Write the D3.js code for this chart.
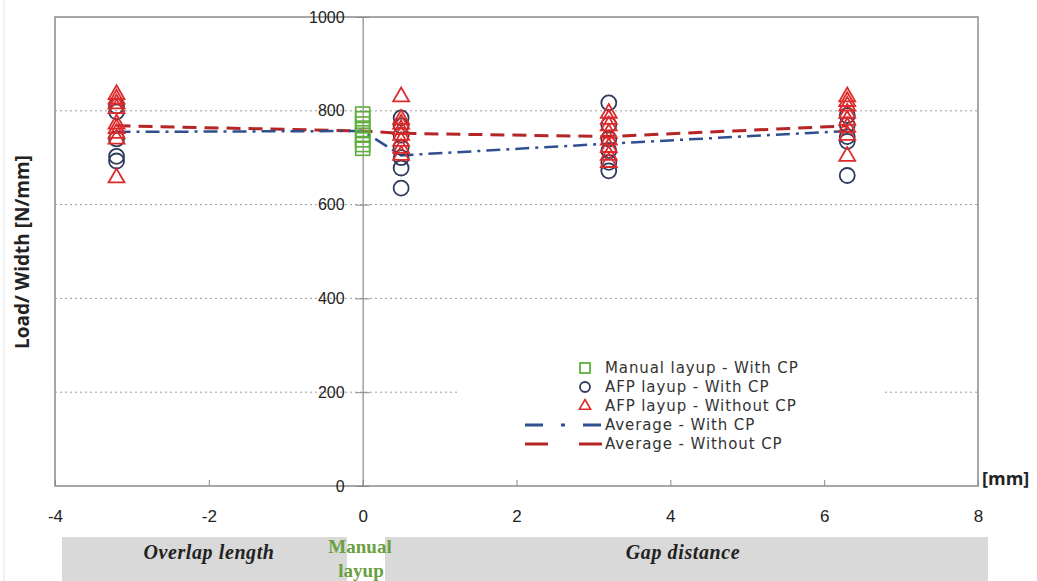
<!DOCTYPE html>
<html>
<head>
<meta charset="utf-8">
<script src="https://cdn.jsdelivr.net/npm/d3@7"></script>
<style>
  html, body { margin: 0; padding: 0; background: #fff; }
  svg { display: block; }
</style>
</head>
<body>
<svg id="chart" width="1037" height="581"></svg>
<script>
// ---- data ----
const xTicks = [-4, -2, 0, 2, 4, 6, 8];
const yTicks = [0, 200, 400, 600, 800, 1000];
const gridValues = [200, 400, 600, 800];

const manualX = [0, 0, 0, 0, 0, 0, 0, 0];
const manualY = [793, 783, 772, 760, 748, 738, 728, 720];

const afpWithX = [-3.2, -3.2, -3.2, -3.2, -3.2, 0.5, 0.5, 0.5, 0.5, 0.5, 0.5, 0.5, 3.2, 3.2, 3.2, 3.2, 3.2, 3.2, 6.3, 6.3, 6.3, 6.3, 6.3];
const afpWithY = [810, 798, 740, 703, 693, 785, 768, 748, 722, 700, 678, 635, 817, 770, 740, 715, 690, 672, 790, 770, 745, 735, 662];

const afpWithoutX = [-3.2, -3.2, -3.2, -3.2, -3.2, -3.2, -3.2, -3.2, -3.2, 0.5, 0.5, 0.5, 0.5, 0.5, 0.5, 0.5, 0.5, 3.2, 3.2, 3.2, 3.2, 3.2, 3.2, 3.2, 3.2, 6.3, 6.3, 6.3, 6.3, 6.3, 6.3, 6.3, 6.3];
const afpWithoutY = [835, 825, 815, 805, 772, 762, 752, 740, 657, 830, 782, 772, 760, 748, 735, 720, 705, 795, 782, 768, 752, 738, 722, 705, 690, 830, 820, 810, 795, 780, 765, 748, 703];

const avgWithX = [-3.2, 0, 0.5, 3.2, 6.3];
const avgWithY = [755, 757, 705, 730, 757];
const avgWithoutX = [-3.2, 0, 0.5, 3.2, 6.3];
const avgWithoutY = [768, 757, 752, 745, 768];

const legendLabels = ["Manual layup - With CP", "AFP layup - With CP", "AFP layup - Without CP", "Average - With CP", "Average - Without CP"];

// ---- layout ----
const svg = d3.select("#chart");
const L = 55, R = 978, T = 17, B = 486;
const x = d3.scaleLinear().domain([-4, 8]).range([L, R]);
const y = d3.scaleLinear().domain([0, 1000]).range([B, T]);

const cGreen = "#5fae3c", cNavy = "#2e3b5e", cRed = "#dd2a2a";
const cBlueLine = "#2f4f8f", cRedLine = "#b52525";
const sans = "Open Sans, Noto Sans, sans-serif";

// gridlines
svg.append("g").selectAll("line").data(gridValues).join("line")
  .attr("x1", L).attr("x2", R)
  .attr("y1", d => y(d)).attr("y2", d => y(d))
  .attr("stroke", "#9a9a9a").attr("stroke-width", 1).attr("stroke-dasharray", "2,3");

// plot border
svg.append("rect").attr("x", L).attr("y", T).attr("width", R - L).attr("height", B - T)
  .attr("fill", "none").attr("stroke", "#8a8a8a").attr("stroke-width", 1.5);

// y axis at x = 0
const yAxis = d3.axisLeft(y).tickValues(yTicks).tickFormat(d => String(d)).tickSize(0).tickPadding(18);
const gy = svg.append("g").attr("transform", `translate(${x(0)},0)`).call(yAxis);
gy.select(".domain").attr("stroke", "#8a8a8a").attr("stroke-width", 1.2);
gy.selectAll("text").attr("font-family", "Liberation Sans, Arial, sans-serif").attr("font-size", 16).attr("fill", "#222");
gy.selectAll(".tick").append("line").attr("x1", -7).attr("x2", 7).attr("stroke", "#8a8a8a");

// x axis ticks (small inner ticks)
const xAxis = d3.axisBottom(x).tickValues(xTicks).tickFormat(d => String(d)).tickSize(0).tickPadding(24);
const gx = svg.append("g").attr("transform", `translate(0,${B})`).call(xAxis);
gx.select(".domain").remove();
gx.selectAll("text").attr("font-family", "Liberation Sans Narrow, Liberation Sans, Arial, sans-serif").attr("font-size", 17).attr("fill", "#222");
gx.selectAll(".tick").append("line").attr("y1", 0).attr("y2", -6).attr("stroke", "#8a8a8a");

// legend background (covers grid)
svg.append("rect").attr("x", 460).attr("y", 352).attr("width", 425).attr("height", 128).attr("fill", "#fff");

// average lines
const lineGen = d3.line().x(d => x(d[0])).y(d => y(d[1]));
svg.append("path").datum(avgWithoutX.map((v, i) => [v, avgWithoutY[i]]))
  .attr("d", lineGen).attr("fill", "none").attr("stroke", cRedLine)
  .attr("stroke-width", 3).attr("stroke-dasharray", "14,8");
svg.append("path").datum(avgWithX.map((v, i) => [v, avgWithY[i]]))
  .attr("d", lineGen).attr("fill", "none").attr("stroke", cBlueLine)
  .attr("stroke-width", 2.5).attr("stroke-dasharray", "14,6,3,6");

// markers
const sq = 14;
svg.append("g").selectAll("rect").data(manualX.map((v, i) => [v, manualY[i]])).join("rect")
  .attr("x", d => x(d[0]) - sq / 2).attr("y", d => y(d[1]) - sq / 2)
  .attr("width", sq).attr("height", sq)
  .attr("fill", "none").attr("stroke", cGreen).attr("stroke-width", 1.6);

svg.append("g").selectAll("circle").data(afpWithX.map((v, i) => [v, afpWithY[i]])).join("circle")
  .attr("cx", d => x(d[0])).attr("cy", d => y(d[1])).attr("r", 7.5)
  .attr("fill", "none").attr("stroke", cNavy).attr("stroke-width", 1.8);

const tri = d3.symbol().type(d3.symbolTriangle).size(110);
svg.append("g").selectAll("path").data(afpWithoutX.map((v, i) => [v, afpWithoutY[i]])).join("path")
  .attr("d", tri).attr("transform", d => `translate(${x(d[0])},${y(d[1])})`)
  .attr("fill", "none").attr("stroke", cRed).attr("stroke-width", 1.8);

// legend
const lg = svg.append("g").attr("font-family", "DejaVu Sans, Verdana, sans-serif").attr("font-size", 15).attr("letter-spacing", 0.9).attr("fill", "#333");
const rowY = i => 368 + i * 19;
lg.append("rect").attr("x", 580).attr("y", rowY(0) - 5).attr("width", 10).attr("height", 10)
  .attr("fill", "none").attr("stroke", cGreen).attr("stroke-width", 1.8);
lg.append("circle").attr("cx", 585).attr("cy", rowY(1)).attr("r", 5)
  .attr("fill", "none").attr("stroke", cNavy).attr("stroke-width", 1.8);
lg.append("path").attr("d", d3.symbol().type(d3.symbolTriangle).size(55))
  .attr("transform", `translate(585,${rowY(2)})`)
  .attr("fill", "none").attr("stroke", cRed).attr("stroke-width", 1.6);
lg.append("line").attr("x1", 525).attr("x2", 602).attr("y1", rowY(3)).attr("y2", rowY(3))
  .attr("stroke", cBlueLine).attr("stroke-width", 3).attr("stroke-dasharray", "18,18,4,18");
lg.append("line").attr("x1", 525).attr("x2", 602).attr("y1", rowY(4)).attr("y2", rowY(4))
  .attr("stroke", cRedLine).attr("stroke-width", 3.2).attr("stroke-dasharray", "23,31");
lg.selectAll("text.lbl").data(legendLabels).join("text").attr("class", "lbl")
  .attr("x", 605).attr("y", (d, i) => rowY(i) + 5).text(d => d);

// y title
svg.append("text").attr("transform", `translate(29,${252}) rotate(-90)`)
  .attr("text-anchor", "middle").attr("font-family", sans)
  .attr("font-weight", "bold").attr("font-size", 19).attr("fill", "#222")
  .text("Load/ Width [N/mm]");

// unit label
svg.append("text").attr("x", 982).attr("y", 485)
  .attr("font-family", sans).attr("font-weight", "bold")
  .attr("font-size", 18).attr("fill", "#222").text("[mm]");

// bottom band
svg.append("rect").attr("x", 62).attr("y", 537).attr("width", 926).attr("height", 44).attr("fill", "#d9d9d9");
svg.append("rect").attr("x", 347).attr("y", 537).attr("width", 38).attr("height", 44).attr("fill", "#fff");
const serif = "Liberation Serif, DejaVu Serif, serif";
svg.append("text").attr("x", 209).attr("y", 559).attr("text-anchor", "middle")
  .attr("font-family", serif).attr("font-weight", "bold").attr("font-style", "italic")
  .attr("font-size", 20).attr("letter-spacing", 0.6).attr("fill", "#222").text("Overlap length");
svg.append("text").attr("x", 683).attr("y", 559).attr("text-anchor", "middle")
  .attr("font-family", serif).attr("font-weight", "bold").attr("font-style", "italic")
  .attr("font-size", 20).attr("letter-spacing", 0.6).attr("fill", "#222").text("Gap distance");
svg.append("text").attr("x", 360).attr("y", 553).attr("text-anchor", "middle")
  .attr("font-family", serif).attr("font-weight", "bold")
  .attr("font-size", 19).attr("fill", "#6aa040").text("Manual");
svg.append("text").attr("x", 361).attr("y", 577).attr("text-anchor", "middle")
  .attr("font-family", serif).attr("font-weight", "bold")
  .attr("font-size", 19).attr("fill", "#6aa040").text("layup");

// faint left frame line
svg.append("line").attr("x1", 4).attr("x2", 4).attr("y1", 0).attr("y2", 581).attr("stroke", "#e2e2e2");
</script>
</body>
</html>
